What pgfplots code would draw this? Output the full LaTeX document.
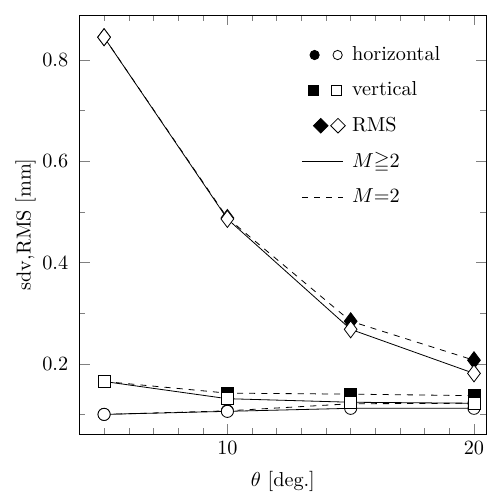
\documentclass[border=0pt]{standalone}
\usepackage{pgfplots}
\pgfplotsset{compat=1.18}
\usepackage{amssymb}
\usetikzlibrary{calc}
\begin{document}
\begin{tikzpicture}
\begin{axis}[
    scale only axis,
    width=7.07cm, height=7.28cm,
    xmin=4, xmax=20.5, ymin=0.0614, ymax=0.889,
    xtick={10,20}, minor xtick={5,...,19},
    ytick={0.2,0.4,0.6,0.8}, minor ytick={0.1,0.3,0.5,0.7},
    tick align=inside,
    major tick length=5pt, minor tick length=3pt,
    yticklabel style={/pgf/number format/fixed,/pgf/number format/precision=1, xshift=-2pt},
    xlabel={$\theta$ [deg.]},
    ylabel={sdv,RMS [mm]},
    xlabel style={yshift=-1.5pt},
    ylabel style={yshift=-3.5pt},
    legend cell align=left,
    legend style={draw=none, fill=none, at={(0.53,0.945)}, anchor=north west,
        row sep=5pt, font=\normalsize},
    every axis plot/.append style={black, thin},
]
% legend
\addlegendimage{legend image code/.code={
    \path[draw=none,fill=none] (0,0) -- (0.8cm,0);
    \fill[black] (0.22cm,0) circle (2.3pt);
    \draw[black,fill=white] (0.62cm,0) circle (2.3pt);}}
\addlegendentry{horizontal}
\addlegendimage{legend image code/.code={
    \path[draw=none,fill=none] (0,0) -- (0.8cm,0);
    \fill[black] (0.12cm,-2.3pt) rectangle ++(4.6pt,4.6pt);
    \draw[black,fill=white] (0.52cm,-2.3pt) rectangle ++(4.6pt,4.6pt);}}
\addlegendentry{vertical}
\addlegendimage{legend image code/.code={
    \path[draw=none,fill=none] (0,0) -- (0.8cm,0);
    \fill[black] (0.2cm,0) -- ++(3.6pt,3.6pt) -- ++(3.6pt,-3.6pt) -- ++(-3.6pt,-3.6pt) -- cycle;
    \draw[black,fill=white] (0.5cm,0) -- ++(3.6pt,3.6pt) -- ++(3.6pt,-3.6pt) -- ++(-3.6pt,-3.6pt) -- cycle;}}
\addlegendentry{RMS}
\addlegendimage{legend image code/.code={
    \path[draw=none,fill=none] (0,0) -- (0.8cm,0);
    \draw[black,thin,solid] (0,0) -- (0.72cm,0);}}
\addlegendentry{$M{\geqq}2$}
\addlegendimage{legend image code/.code={
    \path[draw=none,fill=none] (0,0) -- (0.8cm,0);
    \draw[black,thin,dashed] (0,0) -- (0.72cm,0);}}
\addlegendentry{$M{=}2$}

% M=2 (dashed, filled marks)
\addplot[dashed, mark=*, mark size=3pt, mark options={solid, fill=black}, forget plot]
    coordinates {(5,0.100) (10,0.107) (15,0.121) (20,0.122)};
\addplot[dashed, mark=square*, mark size=3pt, mark options={solid, fill=black}, forget plot]
    coordinates {(5,0.165) (10,0.142) (15,0.140) (20,0.137)};
\addplot[dashed, mark=diamond*, mark size=4.2pt, mark options={solid, fill=black}, forget plot]
    coordinates {(5,0.845) (10,0.488) (15,0.284) (20,0.207)};

% M>=2 (solid, open marks)
\addplot[solid, mark=*, mark size=3pt, mark options={fill=white}, forget plot]
    coordinates {(5,0.100) (10,0.106) (15,0.112) (20,0.112)};
\addplot[solid, mark=square*, mark size=3pt, mark options={fill=white}, forget plot]
    coordinates {(5,0.165) (10,0.131) (15,0.124) (20,0.122)};
\addplot[solid, mark=diamond*, mark size=4.2pt, mark options={fill=white}, forget plot]
    coordinates {(5,0.845) (10,0.486) (15,0.268) (20,0.181)};
\end{axis}
% margins as in the reference
\path ($(current axis.south west)+(-1.38cm,-1.05cm)$) rectangle ($(current axis.north east)+(0.02cm,0.26cm)$);
\end{tikzpicture}
\end{document}
